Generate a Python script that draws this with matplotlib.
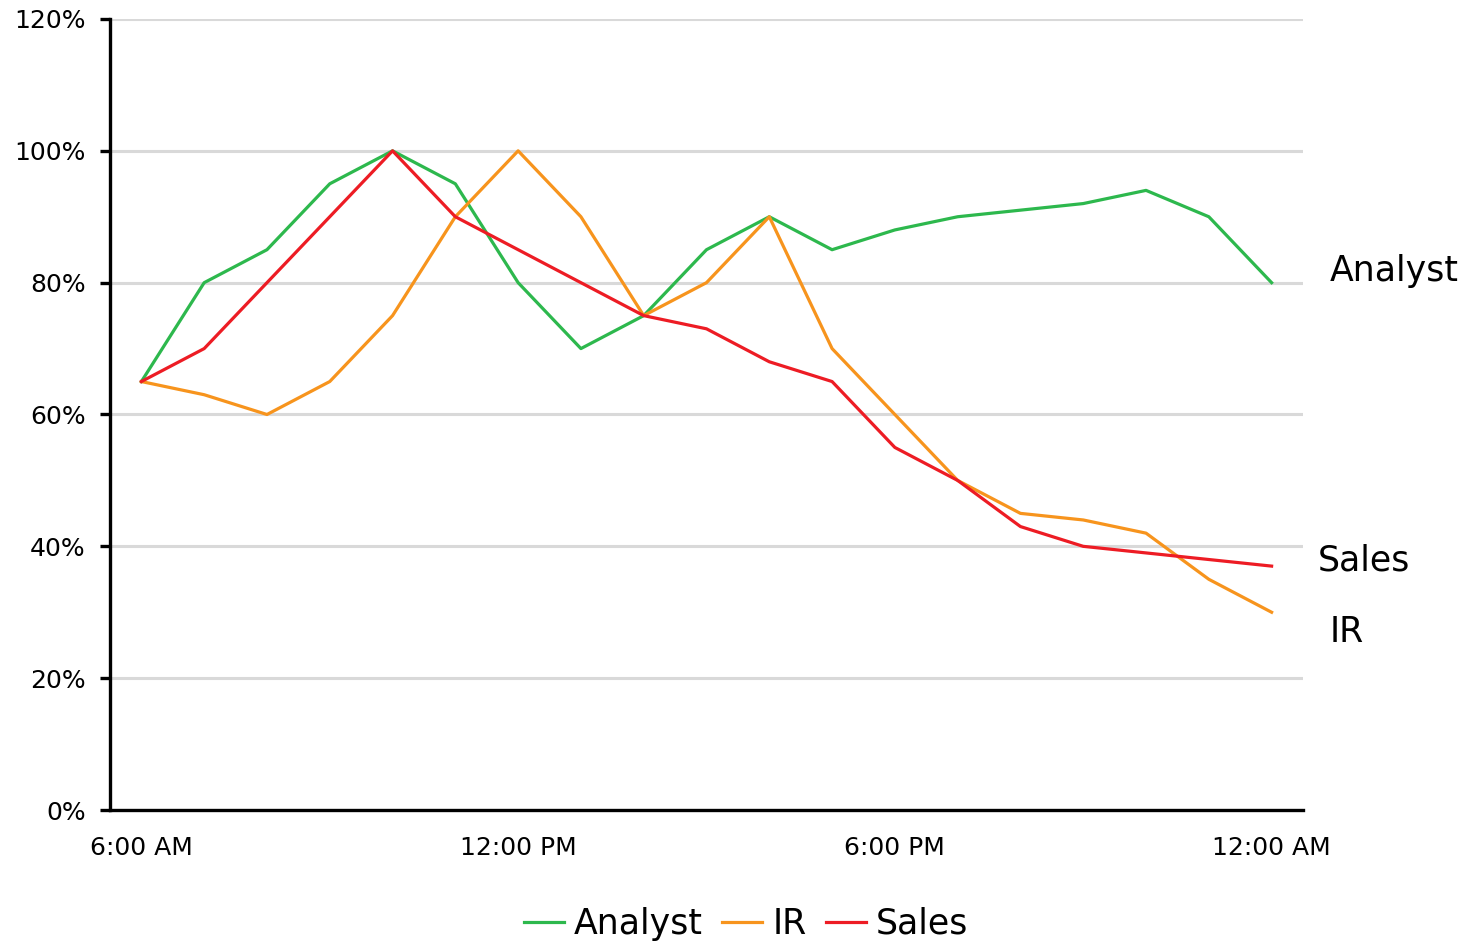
import matplotlib
matplotlib.use("Agg")
import matplotlib.pyplot as plt
from matplotlib.ticker import FuncFormatter

plt.rcParams['font.family'] = ['DejaVu Sans']

hours = list(range(6, 25))
analyst = [65, 80, 85, 95, 100, 95, 80, 70, 75, 85, 90, 85, 88, 90, 91, 92, 94, 90, 80]
ir = [65, 63, 60, 65, 75, 90, 100, 90, 75, 80, 90, 70, 60, 50, 45, 44, 42, 35, 30]
sales = [65, 70, 80, 90, 100, 90, 85, 80, 75, 73, 68, 65, 55, 50, 43, 40, 39, 38, 37]
xtick_pos = [6, 12, 18, 24]
xtick_labels = ["6:00 AM", "12:00 PM", "6:00 PM", "12:00 AM"]
yticks = [0, 20, 40, 60, 80, 100, 120]

colors = {"Analyst": "#2db84d", "IR": "#f7941d", "Sales": "#ed1c24"}

fig = plt.figure(figsize=(14.66, 9.42), dpi=100)
ax = fig.add_axes([110/1466, 132/942, (1303-110)/1466, (810-19)/942])

ax.plot(hours, [v/100 for v in analyst], color=colors["Analyst"], lw=2.3, label="Analyst", zorder=3)
ax.plot(hours, [v/100 for v in ir], color=colors["IR"], lw=2.3, label="IR", zorder=3)
ax.plot(hours, [v/100 for v in sales], color=colors["Sales"], lw=2.3, label="Sales", zorder=3)

ax.set_xlim(5.5, 24.5)
ax.set_ylim(0, 1.2)
ax.set_yticks([v/100 for v in yticks])
ax.yaxis.set_major_formatter(FuncFormatter(lambda v, p: f"{v*100:.0f}%"))
ax.set_xticks(xtick_pos)
ax.set_xticklabels(xtick_labels)

ax.grid(axis='y', color='#d9d9d9', lw=2.2, zorder=0)
ax.set_axisbelow(True)
for s in ['top', 'right']:
    ax.spines[s].set_visible(False)
for s in ['left', 'bottom']:
    ax.spines[s].set_linewidth(2.4)
    ax.spines[s].set_color('black')
ax.tick_params(axis='y', length=7, width=2.4, pad=10.5, labelsize=18)
ax.tick_params(axis='x', length=0, pad=18.5, labelsize=18)

# end labels
ax.text(24.93, 0.818, "Analyst", fontsize=25, va='center', ha='left', clip_on=False)
ax.text(24.74, 0.379, "Sales", fontsize=25, va='center', ha='left', clip_on=False)
ax.text(24.93, 0.270, "IR", fontsize=25, va='center', ha='left', clip_on=False)

fig.legend(loc='center', bbox_to_anchor=(746/1466, 18/942), ncol=3, frameon=False,
           fontsize=25, handlelength=1.15, handletextpad=0.3, columnspacing=0.55)

fig.savefig("out.png", dpi=100, facecolor='white')
